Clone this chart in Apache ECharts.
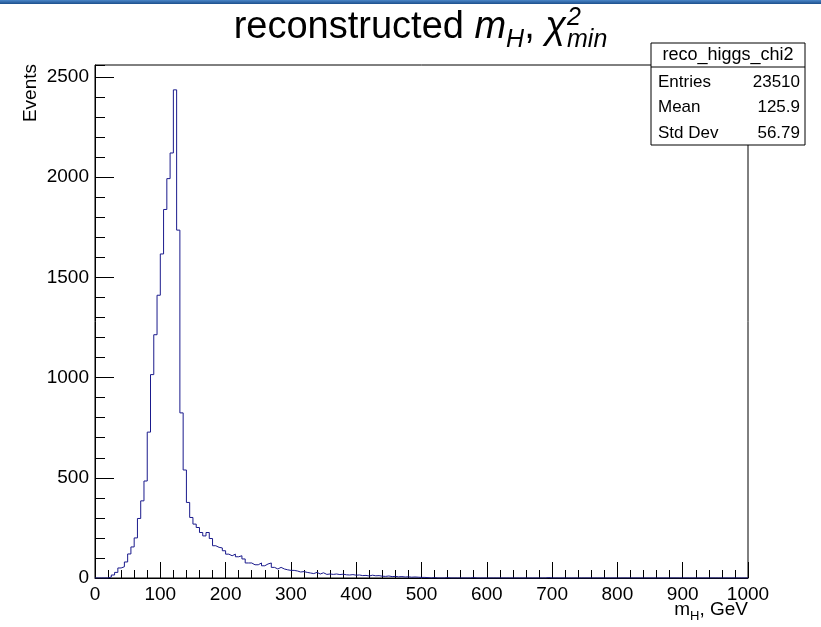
<!DOCTYPE html>
<html>
<head>
<meta charset="utf-8">
<title>reco_higgs_chi2</title>
<script src="https://cdn.jsdelivr.net/npm/echarts@6/dist/echarts.min.js"></script>
<style>
  html, body { margin: 0; padding: 0; background: #fff; }
  #reco_higgs_chi2 { width: 821px; height: 627px; }
</style>
</head>
<body>
<div id="reco_higgs_chi2"></div>
<script>
// reco_higgs_chi2 : reconstructed m_H, chi2_min

// 200 bins of 5 GeV from 0 to 1000
var binWidth = 5;
var binCounts = [
    0, 0, 0, 0, 5, 15, 28, 50, 56, 80, 120, 155, 200, 297, 385, 484, 728, 1015, 1214, 1411,
    1617, 1839, 1993, 2121, 2436, 1736, 824, 539, 377, 302, 269, 252, 227, 210, 227, 197, 161, 153, 150, 136,
    119, 111, 119, 106, 111, 95, 75, 75, 66, 66, 75, 61, 70, 75, 53, 45, 53, 45, 41, 38,
    38, 35, 30, 32, 28, 25, 22, 28, 20, 26, 18, 20, 18, 20, 17, 19, 16, 15, 17, 14,
    15, 12, 13, 10, 14, 11, 12, 9, 8, 10, 7, 8, 6, 7, 5, 6, 4, 5, 4, 3,
    3, 2, 0, 2, 0, 0, 0, 2, 0, 0, 0, 0, 0, 0, 0, 2, 0, 0, 0, 0,
    0, 0, 0, 0, 0, 0, 0, 0, 0, 0, 0, 0, 0, 0, 0, 0, 0, 0, 2, 0,
    0, 0, 0, 0, 0, 0, 0, 0, 0, 0, 0, 0, 0, 0, 0, 0, 0, 0, 0, 0,
    0, 0, 0, 0, 0, 0, 0, 0, 0, 0, 0, 0, 0, 0, 0, 0, 0, 0, 0, 0,
    0, 0, 0, 0, 0, 0, 0, 0, 0, 0, 0, 0, 0, 0, 0, 0, 0, 0, 0, 0
];

var statsLabels = ['Entries', 'Mean', 'Std Dev'];
var statsValues = ['23510', '125.9', '56.79'];

var xMin = 0, xMax = 1000;
var yMin = 0, yMax = 2560;

// step outline: one point per bin low edge, plus the last high edge
var histPoints = binCounts.map(function (c, i) { return [i * binWidth, c]; });
histPoints.push([binCounts.length * binWidth, binCounts[binCounts.length - 1]]);

var FONT = 'Liberation Sans';

// measure text so the title pieces sit next to each other
var ctx = document.createElement('canvas').getContext('2d');
function textWidth(txt, font) { ctx.font = font; return ctx.measureText(txt).width; }

function titlePieces() {
    var big = '38px ' + FONT, bigI = 'italic 38px ' + FONT, smallI = 'italic 25px ' + FONT;
    var base = 41;
    var parts = [
        { t: 'reconstructed ', f: big, dy: 0, size: 38 },
        { t: 'm', f: bigI, dy: 0, size: 38 },
        { t: 'H', f: smallI, dy: 8, size: 25 },
        { t: ', ', f: big, dy: 0, size: 38 },
        { t: 'χ', f: bigI, dy: 0, size: 38 }
    ];
    var total = 0;
    parts.forEach(function (p) { p.w = textWidth(p.t, p.f); total += p.w; });
    var wSup = textWidth('2', smallI), wSub = textWidth('min', smallI);
    total += Math.max(wSup, wSub);
    var x = 420 - total / 2;
    var out = [];
    parts.forEach(function (p) {
        out.push({ type: 'text', x: x, y: base + p.dy - 0.35 * p.size,
            style: { text: p.t, font: p.f, fill: '#000', align: 'left', verticalAlign: 'middle' } });
        x += p.w;
    });
    out.push({ type: 'text', x: x + 1, y: base - 14 - 0.35 * 25,
        style: { text: '2', font: smallI, fill: '#000', align: 'left', verticalAlign: 'middle' } });
    out.push({ type: 'text', x: x + 1, y: base + 8 - 0.35 * 25,
        style: { text: 'min', font: smallI, fill: '#000', align: 'left', verticalAlign: 'middle' } });
    return out;
}

var boxL = 651, boxR = 805, boxT = 43, boxB = 145;
var statsGraphic = [
    { type: 'rect', shape: { x: boxL, y: boxT, width: boxR - boxL, height: boxB - boxT },
      style: { fill: '#fff', stroke: '#000', lineWidth: 1 }, z: 10 },
    { type: 'line', shape: { x1: boxL, y1: 67, x2: boxR, y2: 67 },
      style: { stroke: '#000', lineWidth: 1 }, z: 11 },
    { type: 'text', x: (boxL + boxR) / 2, y: 55, z: 11,
      style: { text: 'reco_higgs_chi2', font: '18px ' + FONT, fill: '#000', align: 'center', verticalAlign: 'middle' } }
];
statsLabels.forEach(function (lab, i) {
    var y = 82 + i * 25.7;
    statsGraphic.push({ type: 'text', x: 658, y: y, z: 11,
        style: { text: lab, font: '17px ' + FONT, fill: '#000', align: 'left', verticalAlign: 'middle' } });
    statsGraphic.push({ type: 'text', x: 800, y: y, z: 11,
        style: { text: statsValues[i], font: '17px ' + FONT, fill: '#000', align: 'right', verticalAlign: 'middle' } });
});

var dom = document.getElementById('reco_higgs_chi2');
var myChart = echarts.init(dom);

var option = {
    animation: false,
    backgroundColor: '#fff',
    textStyle: { fontFamily: FONT },
    grid: {
        left: 95, right: 73, top: 65, bottom: 49,
        show: true, borderColor: '#000', borderWidth: 1, backgroundColor: 'transparent'
    },
    xAxis: {
        type: 'value',
        min: xMin, max: xMax, interval: 100,
        axisLine: { show: true, onZero: false, lineStyle: { color: '#000', width: 1 } },
        axisTick: { show: true, inside: true, length: 16, lineStyle: { color: '#000' } },
        minorTick: { show: true, splitNumber: 5, length: 8, lineStyle: { color: '#000' } },
        axisLabel: { color: '#000', fontSize: 19, fontFamily: FONT, margin: 7,
            formatter: function (v) { return String(v); } },
        splitLine: { show: false },
        minorSplitLine: { show: false }
    },
    yAxis: [
        {
            type: 'value',
            position: 'left',
            min: yMin, max: yMax, interval: 500,
            axisLine: { show: true, onZero: false, lineStyle: { color: '#000', width: 1 } },
            axisTick: { show: true, inside: true, length: 19, lineStyle: { color: '#000' } },
            axisLabel: { color: '#000', fontSize: 19, fontFamily: FONT, margin: 6, showMaxLabel: false,
                formatter: function (v) { return String(v); } },
            splitLine: { show: false }
        },
        {
            type: 'value',
            position: 'left',
            offset: 0,
            min: yMin, max: yMax, interval: 100,
            axisLine: { show: false },
            axisTick: { show: true, inside: true, length: 10, lineStyle: { color: '#000' } },
            axisLabel: { show: false },
            splitLine: { show: false }
        }
    ],
    graphic: [
        { type: 'rect', shape: { x: 0, y: 0, width: 821, height: 4 },
          style: { fill: new echarts.graphic.LinearGradient(0, 0, 0, 1, [
              { offset: 0, color: '#4a86c8' }, { offset: 1, color: '#1c4f8c' }]) } },
        { type: 'text', x: 31, y: 64, rotation: Math.PI / 2,
          style: { text: 'Events', font: '19px ' + FONT, fill: '#000', align: 'right', verticalAlign: 'middle' } },
        { type: 'text', x: 748, y: 612,
          style: {
              text: '{a|m}{b|H}{a|, GeV}',
              align: 'right', verticalAlign: 'middle',
              rich: {
                  a: { fontSize: 19, fontFamily: FONT, fill: '#000', lineHeight: 22, verticalAlign: 'bottom', padding: [0, 0, 4, 0] },
                  b: { fontSize: 13, fontFamily: FONT, fill: '#000', lineHeight: 16, verticalAlign: 'bottom' }
              }
          } }
    ].concat(titlePieces()).concat(statsGraphic),
    series: [
        {
            name: 'reco_higgs_chi2',
            type: 'line',
            step: 'end',
            yAxisIndex: 0,
            showSymbol: false,
            symbol: 'none',
            clip: true,
            lineStyle: { color: '#1a1a8c', width: 1 },
            data: histPoints
        }
    ]
};

if (option && typeof option === 'object') {
    myChart.setOption(option);
}
</script>
</body>
</html>
